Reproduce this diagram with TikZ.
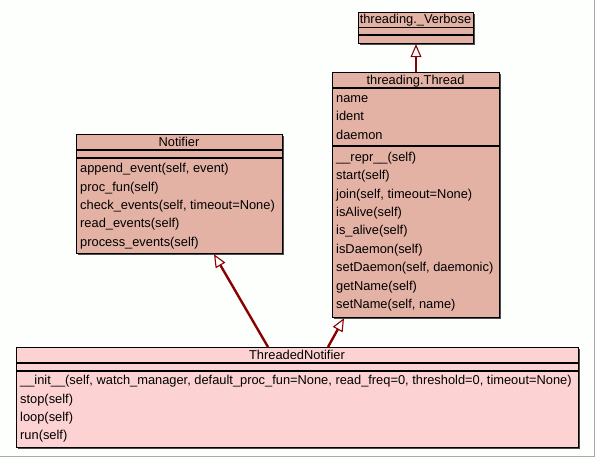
\documentclass[tikz,border=0pt]{standalone}
\usepackage{fontspec}
\setmainfont{Liberation Sans}
\usetikzlibrary{arrows.meta}
\definecolor{bgc}{HTML}{FCFFFC}
\definecolor{cls}{HTML}{E3B2A4}
\definecolor{clsb}{HTML}{FCD2D2}
\definecolor{inh}{HTML}{8B0000}
\definecolor{frm}{HTML}{A8A8A8}
\begin{document}
\begin{tikzpicture}[x=1pt,y=-1pt,
  font=\fontsize{12.85}{15}\selectfont,
  classbox/.style={draw=black, line width=1.2pt, inner sep=0pt, anchor=north west},
  shadowbox/.style={fill=black!70, inner sep=0pt, anchor=north west, draw=none},
  sep/.style={draw=black, line width=1.2pt},
  member/.style={anchor=west, inner sep=0pt, text height=11pt, text depth=1.6pt},
  title/.style={anchor=center, inner sep=0pt, text height=11pt, text depth=1.6pt},
  gen/.style={draw=inh, line width=2.4pt, -{Triangle[open, length=13pt, width=11pt, line width=1.1pt, fill=white]}}
]
\useasboundingbox (0,0) rectangle (595,459);
\fill[bgc] (0,0) rectangle (595,459);
\draw[frm, line width=1pt] (0,456.5) -- (594.5,456.5) -- (594.5,0);

% ---------- threading._Verbose ----------
\node[shadowbox, minimum width=115pt, minimum height=31pt] at (359.5,13.5) {};
\node[classbox, fill=cls, minimum width=115pt, minimum height=31pt] (verbose) at (358,12) {};
\draw[sep] (358,27.5) -- (473,27.5);
\draw[sep] (358,35) -- (473,35);
\node[title] (verbosetitle) at (415.5,18.3) {threading.\_Verbose};

% ---------- threading.Thread ----------
\node[shadowbox, minimum width=167pt, minimum height=245pt] at (333.5,73.5) {};
\node[classbox, fill=cls, minimum width=167pt, minimum height=245pt] (thread) at (332,72) {};
\draw[sep] (332,88) -- (499,88);
\draw[sep] (332,146) -- (499,146);
\node[title] (threadtitle) at (415.5,79.5) {threading.Thread};
\node[member] (t1) at (336,97.5) {name};
\node[member] (t2) at (336,115.9) {ident};
\node[member] (t3) at (336,134.3) {daemon};
\node[member] (t4) at (336,156.5) {\_\_repr\_\_(self)};
\node[member] (t5) at (336,174.9) {start(self)};
\node[member] (t6) at (336,193.3) {join(self, timeout=None)};
\node[member] (t7) at (336,211.7) {isAlive(self)};
\node[member] (t8) at (336,230.1) {is\_alive(self)};
\node[member] (t9) at (336,248.5) {isDaemon(self)};
\node[member] (t10) at (336,266.9) {setDaemon(self, daemonic)};
\node[member] (t11) at (336,285.3) {getName(self)};
\node[member] (t12) at (336,303.7) {setName(self, name)};

% ---------- Notifier ----------
\node[shadowbox, minimum width=206pt, minimum height=119pt] at (77.5,135.5) {};
\node[classbox, fill=cls, minimum width=206pt, minimum height=119pt] (notifier) at (76,134) {};
\draw[sep] (76,150) -- (282,150);
\draw[sep] (76,158) -- (282,158);
\node[title] (notifiertitle) at (179,141.5) {Notifier};
\node[member] (n1) at (80,168) {append\_event(self, event)};
\node[member] (n2) at (80,186.4) {proc\_fun(self)};
\node[member] (n3) at (80,204.8) {check\_events(self, timeout=None)};
\node[member] (n4) at (80,223.2) {read\_events(self)};
\node[member] (n5) at (80,241.6) {process\_events(self)};

% ---------- ThreadedNotifier ----------
\node[shadowbox, minimum width=562pt, minimum height=100pt] at (17.5,348.5) {};
\node[classbox, fill=clsb, minimum width=562pt, minimum height=100pt] (tnotifier) at (16,347) {};
\draw[sep] (16,363) -- (578,363);
\draw[sep] (16,371) -- (578,371);
\node[title] (tntitle) at (297,354.5) {ThreadedNotifier};
\node[member] (m1) at (20,380) {\_\_init\_\_(self, watch\_manager, default\_proc\_fun=None, read\_freq=0, threshold=0, timeout=None)};
\node[member] (m2) at (20,398.4) {stop(self)};
\node[member] (m3) at (20,416.8) {loop(self)};
\node[member] (m4) at (20,435.2) {run(self)};

% ---------- generalisations ----------
\draw[gen] ([xshift=84pt]thread.north west) -- ([xshift=58pt]verbose.south west);
\draw[gen] ([xshift=252pt]tnotifier.north west) -- ([xshift=138pt]notifier.south west);
\draw[gen] ([xshift=312pt]tnotifier.north west) -- ([xshift=12pt]thread.south west);
\end{tikzpicture}
\end{document}
